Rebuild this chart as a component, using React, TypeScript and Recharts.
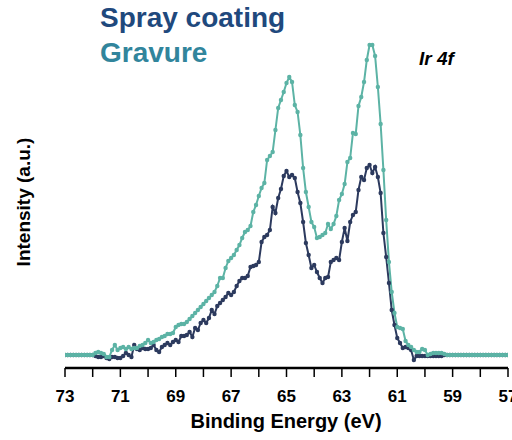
import { LineChart, Line, XAxis, YAxis } from "recharts";

const NAVY = "#2c3a5e";
const TEAL = "#5cb3a5";
const FONT = "'Liberation Sans', Arial, sans-serif";

// binding energy grid (eV), high -> low
const ENERGY = [
  73.0, 72.9, 72.8, 72.7, 72.6, 72.5, 72.4, 72.3, 72.2, 72.1,
  72.0, 71.9, 71.8, 71.7, 71.6, 71.5, 71.4, 71.3, 71.2, 71.1,
  71.0, 70.9, 70.8, 70.7, 70.6, 70.5, 70.4, 70.3, 70.2, 70.1,
  70.0, 69.9, 69.8, 69.7, 69.6, 69.5, 69.4, 69.3, 69.2, 69.1,
  69.0, 68.9, 68.8, 68.7, 68.6, 68.5, 68.4, 68.3, 68.2, 68.1,
  68.0, 67.9, 67.8, 67.7, 67.6, 67.5, 67.4, 67.3, 67.2, 67.1,
  67.0, 66.9, 66.8, 66.7, 66.6, 66.5, 66.4, 66.3, 66.2, 66.1,
  66.0, 65.9, 65.8, 65.7, 65.6, 65.5, 65.4, 65.3, 65.2, 65.1,
  65.0, 64.9, 64.8, 64.7, 64.6, 64.5, 64.4, 64.3, 64.2, 64.1,
  64.0, 63.9, 63.8, 63.7, 63.6, 63.5, 63.4, 63.3, 63.2, 63.1,
  63.0, 62.9, 62.8, 62.7, 62.6, 62.5, 62.4, 62.3, 62.2, 62.1,
  62.0, 61.9, 61.8, 61.7, 61.6, 61.5, 61.4, 61.3, 61.2, 61.1,
  61.0, 60.9, 60.8, 60.7, 60.6, 60.5, 60.4, 60.3, 60.2, 60.1,
  60.0, 59.9, 59.8, 59.7, 59.6, 59.5, 59.4, 59.3, 59.2, 59.1,
  59.0, 58.9, 58.8, 58.7, 58.6, 58.5, 58.4, 58.3, 58.2, 58.1,
  58.0, 57.9, 57.8, 57.7, 57.6, 57.5, 57.4, 57.3, 57.2, 57.1,
  57.0,
];

const SPRAY = [
  0, 0, 0, 0, 0, 0, 0, 0, 0, 0,
  0, -1, -2, -2, -1, -3, -4, -2, -2, -3,
  -3, -1, 2, 0, -2, 10, 6, 5, 7, 6,
  6, 7, 10, 5, 3, 8, 10, 12, 10, 13,
  15, 13, 19, 19, 20, 23, 18, 27, 25, 32,
  35, 32, 37, 45, 41, 49, 52, 55, 58, 62,
  60, 63, 69, 74, 77, 77, 79, 88, 89, 90,
  93, 113, 118, 120, 125, 148, 142, 157, 166, 179,
  184, 178, 180, 177, 163, 152, 133, 112, 100, 87,
  90, 83, 77, 72, 77, 78, 93, 95, 97, 95,
  113, 127, 114, 133, 140, 143, 165, 178, 175, 187,
  190, 182, 188, 178, 162, 122, 98, 72, 45, 30,
  17, 12, 7, 8, 7, 5, -5, -1, -1, -1,
  -1, -1, -1, -1, -1, -1, -1, 0, 0, 0,
  0, 0, 0, 0, 0, 0, 0, 0, 0, 0,
  0, 0, 0, 0, 0, 0, 0, 0, 0, 0,
  0,
];

const GRAVURE = [
  0, 0, 0, 0, 0, 0, 0, 0, 0, 0,
  0, 2, 3, 2, 1, -2, -2, 5, 10, 5,
  7, 8, 6, 8, 6, 7, 7, 9, 10, 12,
  15, 12, 13, 15, 16, 18, 19, 21, 21, 22,
  28, 30, 31, 31, 33, 36, 39, 42, 45, 48,
  51, 54, 57, 60, 63, 69, 77, 77, 87, 94,
  97, 100, 105, 110, 117, 123, 125, 129, 143, 150,
  159, 167, 172, 195, 199, 203, 225, 247, 255, 263,
  272, 278, 273, 250, 243, 220, 187, 163, 148, 133,
  128, 117, 118, 120, 122, 131, 126, 131, 139, 155,
  161, 171, 193, 197, 222, 221, 249, 258, 273, 295,
  310, 310, 299, 268, 231, 185, 135, 93, 63, 42,
  28, 27, 26, 14, 10, 8, 5, 3, 3, 6,
  5, 0, 1, 2, 2, 2, 2, 1, 0, 0,
  0, 0, 0, 0, 0, 0, 0, 0, 0, 0,
  0, 0, 0, 0, 0, 0, 0, 0, 0, 0,
  0,
];

const X_TICKS = [73, 72, 71, 70, 69, 68, 67, 66, 65, 64, 63, 62, 61, 60, 59, 58, 57];

const data = ENERGY.map((e, i) => ({ energy: e, spray: SPRAY[i], gravure: GRAVURE[i] }));

function EnergyTick(props: any) {
  const { x, y, payload } = props;
  // only odd values carry a label, the rest are minor ticks
  if (payload.value % 2 === 0) return <g />;
  return (
    <text x={x} y={y + 23} textAnchor="middle" fontSize={17} fontWeight="bold" fill="#000" fontFamily={FONT}>
      {payload.value}
    </text>
  );
}

export default function App() {
  return (
    <div style={{ position: "absolute", left: 0, top: 0, width: 512, height: 440, background: "#fff" }}>
      <LineChart width={512} height={440} data={data} margin={{ top: 36, right: 4, left: 65, bottom: 42 }}>
        <XAxis
          dataKey="energy"
          type="number"
          domain={[57, 73]}
          reversed
          allowDataOverflow
          ticks={X_TICKS}
          interval={0}
          tick={<EnergyTick />}
          tickSize={9}
          tickLine={{ stroke: "#000", strokeWidth: 1.5 }}
          axisLine={{ stroke: "#000", strokeWidth: 2.5 }}
          height={30}
        />
        <YAxis
          type="number"
          domain={[-13, 319]}
          allowDataOverflow
          width={0}
          tick={false}
          tickLine={false}
          axisLine={{ stroke: "#000", strokeWidth: 2.5 }}
        />
        <Line
          dataKey="spray"
          stroke={NAVY}
          strokeWidth={2}
          dot={{ r: 2.2, fill: NAVY, stroke: NAVY, strokeWidth: 0 }}
          isAnimationActive={false}
        />
        <Line
          dataKey="gravure"
          stroke={TEAL}
          strokeWidth={2}
          dot={{ r: 2.2, fill: TEAL, stroke: TEAL, strokeWidth: 0 }}
          isAnimationActive={false}
        />
      </LineChart>
      <svg width={512} height={440} style={{ position: "absolute", left: 0, top: 0, pointerEvents: "none" }}>
        <text x={100} y={27} fontSize={28} fontWeight="bold" fill="#1F497D" fontFamily={FONT}>
          Spray coating
        </text>
        <text x={100} y={62} fontSize={28} fontWeight="bold" fill="#31859C" fontFamily={FONT}>
          Gravure
        </text>
        <text x={419} y={65} fontSize={19} fontWeight="bold" fontStyle="italic" fill="#000" fontFamily={FONT}>
          Ir 4f
        </text>
        <text x={286} y={428} textAnchor="middle" fontSize={20} fontWeight="bold" fill="#000" fontFamily={FONT}>
          Binding Energy (eV)
        </text>
        <text
          x={30}
          y={202}
          textAnchor="middle"
          fontSize={19}
          fontWeight="bold"
          fill="#000"
          fontFamily={FONT}
          transform="rotate(-90, 30, 202)"
        >
          Intensity (a.u.)
        </text>
      </svg>
    </div>
  );
}
